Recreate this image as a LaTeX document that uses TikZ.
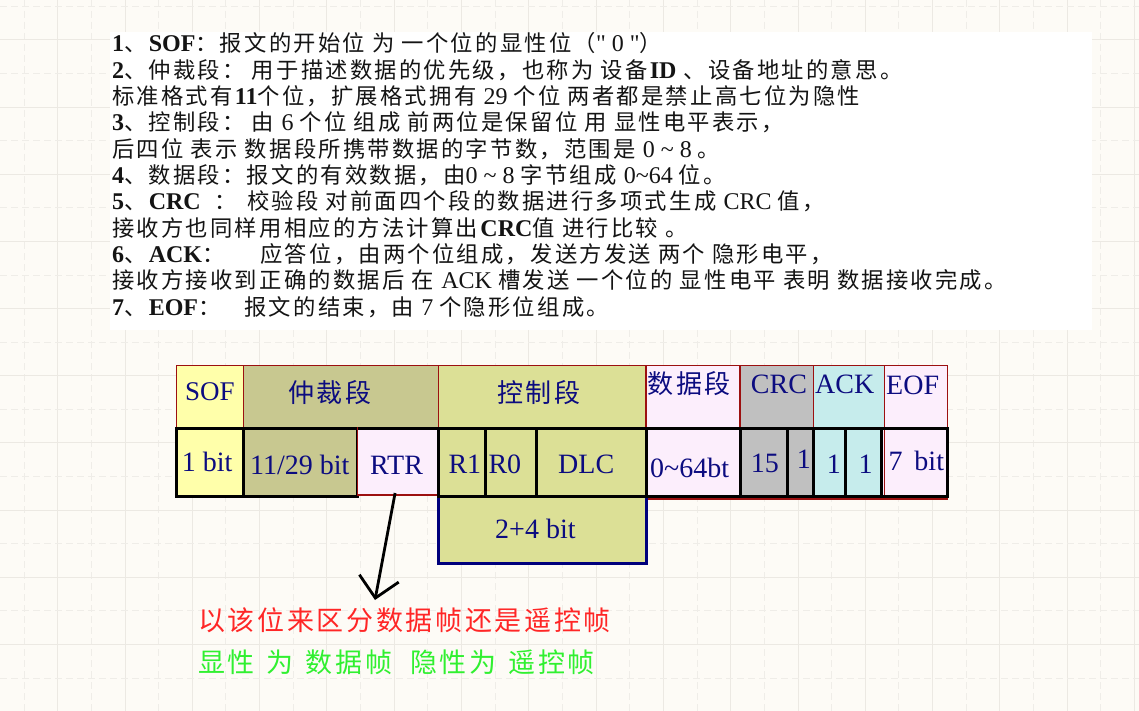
\documentclass[tikz,border=0pt]{standalone}
\usepackage{fontspec}
\setmainfont{Liberation Serif}
\newfontfamily\latinfont{Liberation Serif}
\newfontfamily\cjkfont{Noto Sans CJK SC}[Scale=0.93,LetterSpace=10]
\usetikzlibrary{arrows.meta,fit}

\newXeTeXintercharclass\cjkcls
\newcount\cjkc
\def\setcls#1#2#3{\cjkc=#1 \loop\XeTeXcharclass\cjkc=#3 \ifnum\cjkc<#2 \advance\cjkc by 1 \repeat}
\setcls{"0021}{"007E}{0}
\setcls{"3000}{"303F}{\cjkcls}
\setcls{"4E00}{"9FFF}{\cjkcls}
\setcls{"FF00}{"FFEF}{\cjkcls}
\XeTeXinterchartoks 0 \cjkcls = {\cjkfont}
\XeTeXinterchartoks 4095 \cjkcls = {\cjkfont}
\XeTeXinterchartoks \cjkcls 0 = {\latinfont}
\XeTeXinterchartoks 4095 0 = {\latinfont}
\XeTeXinterchartokenstate=1

\definecolor{bgc}{HTML}{FDFBF6}
\definecolor{gridc}{HTML}{ECE9E3}
\definecolor{gridd}{HTML}{EFEDE8}
\definecolor{cyel}{HTML}{FFFFAA}
\definecolor{ckha}{HTML}{C8C890}
\definecolor{cctl}{HTML}{DCE096}
\definecolor{cpnk}{HTML}{FCEEFC}
\definecolor{cgry}{HTML}{C0C0C0}
\definecolor{ccyn}{HTML}{C6ECEC}
\definecolor{cred}{HTML}{9C1010}
\definecolor{cnavy}{HTML}{0C0C80}
\definecolor{cblue}{HTML}{00007C}
\definecolor{ctxtred}{HTML}{FF2626}
\definecolor{ctxtgrn}{HTML}{30F030}

\begin{document}
\begin{tikzpicture}[x=1pt,y=-1pt,
  hdr/.style={draw=cred, line width=1.3pt, inner sep=0pt, outer sep=0pt},
  blk/.style={draw=black, line width=3pt, inner sep=0pt, outer sep=0pt},
  lab/.style={inner sep=0pt, anchor=base west, text=cnavy, font=\fontsize{28}{30}\selectfont},
  txt/.style={inner sep=0pt, anchor=base west, text=black!92, font=\fontsize{24}{26}\selectfont},
  note/.style={inner sep=0pt, anchor=base west, font=\fontsize{29}{31}\selectfont},
  gsolid/.style={gridc, line width=1pt},
  gdash/.style={gridd, line width=0.9pt, dash pattern=on 7pt off 4pt}]
\useasboundingbox (0,0) rectangle (1139,711);
\fill[bgc] (0,0) rectangle (1139,711);
\foreach \i in {0,...,16} {
  \draw[gdash] ({24+67.3*\i},0) -- ({24+67.3*\i},711);
  \draw[gsolid] ({57.7+67.3*\i},0) -- ({57.7+67.3*\i},711);
}
\foreach \j in {0,...,10} {
  \draw[gdash] (0,{6.5+67.15*\j}) -- (1139,{6.5+67.15*\j});
  \draw[gsolid] (0,{40+67.15*\j}) -- (1139,{40+67.15*\j});
}
\fill[white] (110,32) rectangle (1092,330);

% explanatory text
\node[txt] (l1) at (112,52) {\textbf{1}、\textbf{SOF}：报文的开始位 为 一个位的显性位（" 0 "）};
\node[txt] (l2) at (112,78.3) {\textbf{2}、仲裁段： 用于描述数据的优先级，也称为 设备\textbf{ID} 、设备地址的意思。};
\node[txt] (l3) at (112,104.6) {标准格式有\textbf{11}个位，扩展格式拥有 29 个位 两者都是禁止高七位为隐性};
\node[txt] (l4) at (112,130.9) {\textbf{3}、控制段： 由 6 个位 组成 前两位是保留位 用 显性电平表示，};
\node[txt] (l5) at (112,157.2) {后四位 表示 数据段所携带数据的字节数，范围是 0 \textasciitilde{} 8 。};
\node[txt] (l6) at (112,183.5) {\textbf{4}、数据段：报文的有效数据，由0 \textasciitilde{} 8 字节组成 0\textasciitilde64 位。};
\node[txt] (l7) at (112,209.8) {\textbf{5}、\textbf{CRC}\hspace{14pt}：\hspace{10pt}校验段 对前面四个段的数据进行多项式生成 CRC 值，};
\node[txt] (l8) at (112,236.1) {接收方也同样用相应的方法计算出\textbf{CRC}值 进行比较 。};
\node[txt] (l9) at (112,262.4) {\textbf{6}、\textbf{ACK}：\hspace{36pt}应答位，由两个位组成，发送方发送 两个 隐形电平，};
\node[txt] (l10) at (112,288.7) {接收方接收到正确的数据后 在 ACK 槽发送 一个位的 显性电平 表明 数据接收完成。};
\node[txt] (l11) at (112,315) {\textbf{7}、\textbf{EOF}：\hspace{24pt}报文的结束，由 7 个隐形位组成。};

% header row
\node[hdr, fill=cyel, fit={(176.7,365.7) (243.3,428)}] (hsof) {};
\node[hdr, fill=ckha, fit={(243.3,365.7) (438.7,428)}] (harb) {};
\node[hdr, fill=cctl, fit={(438.7,365.7) (646,428)}] (hctl) {};
\node[hdr, fill=cpnk, fit={(646,365.7) (740,428)}] (hdat) {};
\node[hdr, fill=cgry, fit={(740,365.7) (813.3,428)}] (hcrc) {};
\node[hdr, fill=ccyn, fit={(813.3,365.7) (884.3,428)}] (hack) {};
\node[hdr, fill=cpnk, fit={(884.3,365.7) (947.7,428)}] (heof) {};

% red underlay of data part
\draw[cred, line width=1.3pt] (646,428) rectangle (947.7,499);

% bit row
\node[blk, fill=cyel, fit={(176.7,428) (243,496)}] (b1) {};
\node[blk, fill=ckha, fit={(243,428) (357.7,496)}] (b2) {};
\node[hdr, fill=cpnk, fit={(357.7,428) (438.5,495)}] (rtr) {};
\draw[black, line width=3pt] (rtr.north west) -- (rtr.north east);
\node[blk, fill=cctl, fit={(438.5,428) (485,496)}] (r1) {};
\node[blk, fill=cctl, fit={(485,428) (536.7,496)}] (r0) {};
\node[blk, fill=cctl, fit={(536.7,428) (646,496)}] (dlc) {};
\node[blk, fill=cpnk, fit={(646,428) (740,496)}] (dat) {};
\node[blk, fill=cgry, fit={(740,428) (787.7,496)}] (c15) {};
\node[blk, fill=cgry, fit={(787.7,428) (813.3,496)}] (c1) {};
\node[blk, fill=ccyn, fit={(813.3,428) (845,496)}] (a1) {};
\node[blk, fill=ccyn, fit={(845,428) (881.7,496)}] (a2) {};
\node[blk, fill=cpnk, fit={(881.7,428) (947.7,496)}] (eof) {};
\draw[cred, line width=1.3pt] (884.5,430) -- (884.5,494.5);

% 2+4 bit box
\node[inner sep=0pt, outer sep=0pt, fill=cctl, fit={(438.7,497.5) (646.5,563.3)}] (len) {};
\draw[cblue, line width=3pt] (len.north west) -- (len.south west) -- (len.south east) -- (len.north east);

% labels
\node[lab, font=\fontsize{27}{30}\selectfont] (tsof) at (185,400) {SOF};
\node[lab] (tarb) at (288,402) {仲裁段};
\node[lab] (tctl) at (497,402) {控制段};
\node[lab] (tdat) at (647.5,393.5) {数据段};
\node[lab] (tcrc) at (750.7,393) {CRC};
\node[lab] (tack) at (815,393) {ACK};
\node[lab] (teof) at (886,394) {EOF};
\node[lab] (t1b) at (181.7,471.7) {1 bit};
\node[lab] (t1129) at (250,474) {11/29 bit};
\node[lab] (trtr) at (370,474) {RTR};
\node[lab] (tr1) at (448.3,473) {R1};
\node[lab] (tr0) at (488.3,473) {R0};
\node[lab] (tdlc) at (558,473) {DLC};
\node[lab] (t064) at (650,477.7) {0\textasciitilde64bt};
\node[lab] (t15) at (750.7,472) {15};
\node[lab] (tc1) at (796.7,468) {1};
\node[lab] (ta1) at (826.7,473) {1};
\node[lab] (ta2) at (858.3,473) {1};
\node[lab] (t7b) at (888.3,470) {7\hspace{12pt}bit};
\node[lab] (tlen) at (495,538) {2+4 bit};

% notes and arrow
\node[note, text=ctxtred] (note1) at (198,630.5) {以该位来区分数据帧还是遥控帧};
\node[note, text=ctxtgrn] (note2) at (198,672.5) {显性\hspace{12pt}为\hspace{12pt}数据帧\hspace{18pt}隐性为\hspace{12pt}遥控帧};
\coordinate (tip) at (375,600);
\draw[line width=2.8pt, -{Straight Barb[length=20pt,width=40pt]}] ([xshift=-3pt,yshift=2pt]rtr.south) -- (tip);
\end{tikzpicture}
\end{document}
